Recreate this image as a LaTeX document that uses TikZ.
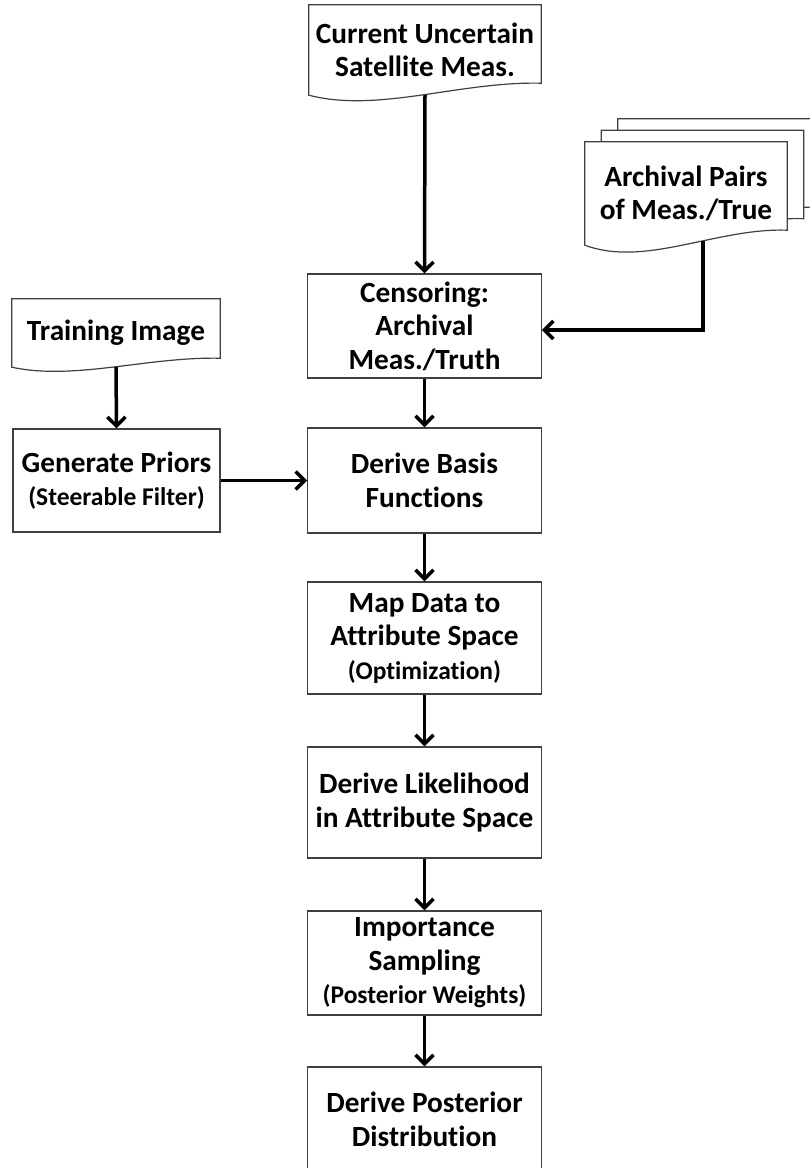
\documentclass[tikz,border=0pt]{standalone}
\usepackage{fontspec}
\setmainfont{Carlito}[Ligatures=NoCommon]
\usetikzlibrary{calc,arrows.meta,backgrounds}

\tikzset{
  boxline/.style={draw=black!75, line width=1.2pt},
  stepbox/.style={boxline, rectangle, minimum width=233.5, minimum height=#1,
    inner sep=0pt, align=center, font=\mainfont},
  stepbox/.default=105,
  docnode/.style={rectangle, inner sep=0pt, align=center, font=\mainfont},
  arr/.style={line width=3.5pt, -{Straight Barb[length=9pt,width=18pt,line width=3.5pt]}},
}
\newcommand\mainfont{\fontsize{29.3}{33.5}\selectfont\bfseries}
\newcommand\subfont{\fontsize{25.5}{33.5}\selectfont\bfseries}

% outline of a document shape around a named node; #2 = wave depth, #3 = offset
\newcommand\docoutline[3]{%
  \begin{pgfonlayer}{background}
  \draw[boxline, fill=white]
    ($(#1.north west)+(#3)$) -- ($(#1.north east)+(#3)$)
    -- ($(#1.south east)+(0,-#2)+(#3)$)
    .. controls ($(#1.south west)!0.65!(#1.south east)+(0,-1.17*#2)+(#3)$)
    and ($(#1.south west)!0.3!(#1.south east)+(0,1.5*#2)+(#3)$)
    .. ($(#1.south west)+(#3)$) -- cycle;
  \end{pgfonlayer}}

\begin{document}
\begin{tikzpicture}[x=1pt, y=-1pt]
\useasboundingbox (0,0) rectangle (810,1168);

% input documents
\node[docnode, minimum width=232, minimum height=90] (cur) at (425,50)
  {Current Uncertain\\Satellite Meas.};
\docoutline{cur}{12}{0,0}

\node[docnode, minimum width=202, minimum height=103] (arch) at (686,193.5)
  {Archival Pairs\\of Meas./True};
\docoutline{arch}{15}{33,-23}
\docoutline{arch}{15}{16.5,-11.5}
\docoutline{arch}{15}{0,0}

\node[docnode, minimum width=208, minimum height=68] (train) at (116,333)
  {Training Image};
\docoutline{train}{9}{0,0}

% processing steps
\node[stepbox=103, minimum width=207] (prior) at (116.5,480.5)
  {Generate Priors\\{\subfont(Steerable Filter)}};
\node[stepbox=104] (cens) at (424.5,326) {Censoring:\\Archival\\Meas./Truth};
\node[stepbox=105] (basis) at (424.5,480.5) {Derive Basis\\Functions};
\node[stepbox=112] (mapd) at (424.5,638)
  {Map Data to\\Attribute Space\\{\subfont(Optimization)}};
\node[stepbox=111] (like) at (424.5,802.5)
  {Derive Likelihood\\in Attribute Space};
\node[stepbox=104] (imp) at (424.5,963)
  {Importance\\Sampling\\{\subfont(Posterior Weights)}};
\node[stepbox=105] (post) at (424.5,1119.5)
  {Derive Posterior\\Distribution};

% connectors
\coordinate (archout) at ($(arch.south west)!0.584!(arch.south east)+(0,-4)$);
\draw[arr] (cur.south) -- (cens.north);
\draw[arr] (archout) |- ($(cens.east)+(0,4)$);
\draw[arr] (train.south) -- (prior.north);
\draw[arr] (prior.east) -- (basis.west);
\draw[arr] (cens.south) -- (basis.north);
\draw[arr] (basis.south) -- (mapd.north);
\draw[arr] (mapd.south) -- (like.north);
\draw[arr] (like.south) -- (imp.north);
\draw[arr] (imp.south) -- (post.north);
\end{tikzpicture}
\end{document}
